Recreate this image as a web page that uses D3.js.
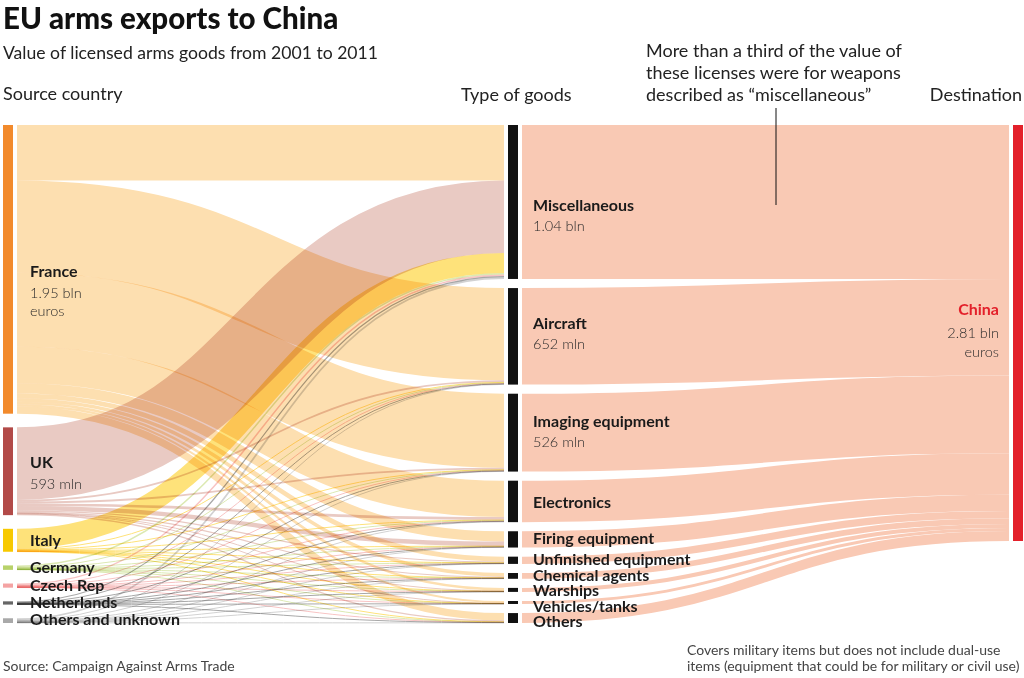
<!DOCTYPE html>
<html><head><meta charset="utf-8">
<script src="https://cdn.jsdelivr.net/npm/d3@7"></script>
<style>
body{margin:0;background:#fff;}
svg{display:block;font-family:Lato,"Source Sans Pro",sans-serif;}
</style></head><body>
<svg id="chart" width="1024" height="678"></svg>
<script>
// ---------- DATA ----------
const sourceCountries = ["France","UK","Italy","Germany","Czech Rep","Netherlands","Others and unknown"];
const goodsTypes = ["Miscellaneous","Aircraft","Imaging equipment","Electronics","Firing equipment","Unfinished equipment","Chemical agents","Warships","Vehicles/tanks","Others"];
const destinations = ["China"];
// value in million euros, per type of goods (same order as goodsTypes)
const franceToGoods      = [375, 623, 500, 246, 69, 32, 24, 18, 14, 49];
const ukToGoods          = [490, 12, 12, 18, 30, 8, 8, 4, 2, 9];
const italyToGoods       = [135, 4, 3, 3, 3, 2, 1, 1, 1, 2];
const germanyToGoods     = [10, 4, 3, 4, 2, 2, 1, 1, 1, 2];
const czechToGoods       = [10, 3, 3, 3, 2, 2, 2, 1, 0.5, 1.5];
const netherlandsToGoods = [8, 3, 2, 2, 2, 1, 1, 1, 0.5, 1.5];
const othersToGoods      = [12, 3, 3, 4, 2, 2, 2, 1, 1, 2];
const sourceValueLabels = [["1.95 bln","euros"],["593 mln"],[],[],[],[],[]];
const goodsValueLabels = [["1.04 bln"],["652 mln"],["526 mln"],[],[],[],[],[],[],[]];
const destinationValueLabels = [["2.81 bln","euros"]];

// ---------- STYLE ----------
const nodeColors = ["#f28a2c","#b24a48","#f7c900","#b8d26a","#f4a3a3","#666666","#a9a9a9"];
const linkColors = ["#fddfb0","#e9cac3","#fee27a","#dce9b2","#f8c4c4","#a8a8a8","#d2d2d2"];
const goodsLinkColor = "#f9c9b4";
const chinaColor = "#e3202a";

// ---------- LAYOUT ----------
const flows = [franceToGoods, ukToGoods, italyToGoods, germanyToGoods, czechToGoods, netherlandsToGoods, othersToGoods];
const srcTotals = flows.map(r => d3.sum(r));
const goodsTotals = goodsTypes.map((g, j) => d3.sum(flows, r => r[j]));
const total = d3.sum(srcTotals);
const yTop = 125, yBottom = 623;
const h = d3.scaleLinear().domain([0, total]).range([0, 416]);
const col = {left:{x0:3,x1:13}, mid:{x0:508,x1:518}, right:{x0:1013,x1:1023}};
const linkGap = 4;

function stack(values){
  const pad = values.length > 1 ? (yBottom - yTop - h(d3.sum(values))) / (values.length - 1) : 0;
  let y = yTop;
  return values.map(v => { const n = {y0:y, y1:y + h(v)}; y = n.y1 + pad; return n; });
}
const srcNodes = stack(srcTotals);
const goodsNodes = stack(goodsTotals);
const destNodes = [{y0: yTop, y1: yTop + h(total)}];

// links source -> goods
const links1 = [];
srcNodes.forEach((n, i) => {
  let ys = n.y0;
  flows[i].forEach((v, j) => {
    const w = h(v);
    links1.push({i, j, v, w, sy: ys + w/2, ty: 0});
    ys += w;
  });
});
goodsTypes.forEach((g, j) => {
  let yt = goodsNodes[j].y0;
  links1.filter(l => l.j === j).sort((a,b)=>a.i-b.i).forEach(l => { l.ty = yt + l.w/2; yt += l.w; });
});
// links goods -> China
const links2 = [];
let yc = destNodes[0].y0;
goodsNodes.forEach((n, j) => {
  const w = h(goodsTotals[j]);
  links2.push({j, w, sy: n.y0 + w/2, ty: yc + w/2});
  yc += w;
});

// ---------- DRAW ----------
const svg = d3.select("#chart");
const link = d3.linkHorizontal();

const g1 = svg.append("g").style("isolation","isolate");
g1.selectAll("path").data(links1).join("path")
  .attr("d", d => link({source:[col.left.x1 + linkGap, d.sy], target:[col.mid.x0 - linkGap, d.ty]}))
  .attr("fill","none")
  .attr("stroke", d => linkColors[d.i])
  .attr("stroke-width", d => Math.max(1, d.w))
  .style("mix-blend-mode","multiply");

const g2 = svg.append("g");
g2.selectAll("path").data(links2).join("path")
  .attr("d", d => link({source:[col.mid.x1 + linkGap, d.sy], target:[col.right.x0 - linkGap, d.ty]}))
  .attr("fill","none")
  .attr("stroke", goodsLinkColor)
  .attr("stroke-width", d => Math.max(1, d.w));

// nodes
svg.append("g").selectAll("rect").data(srcNodes).join("rect")
  .attr("x", col.left.x0).attr("width", col.left.x1 - col.left.x0)
  .attr("y", d => d.y0).attr("height", d => Math.max(2.5, d.y1 - d.y0))
  .attr("fill", (d,i) => nodeColors[i]);
svg.append("g").selectAll("rect").data(goodsNodes).join("rect")
  .attr("x", col.mid.x0).attr("width", col.mid.x1 - col.mid.x0)
  .attr("y", d => d.y0).attr("height", d => Math.max(2.5, d.y1 - d.y0))
  .attr("fill", "#111");
svg.append("g").selectAll("rect").data(destNodes).join("rect")
  .attr("x", col.right.x0).attr("width", col.right.x1 - col.right.x0)
  .attr("y", d => d.y0).attr("height", d => d.y1 - d.y0)
  .attr("fill", chinaColor);

// ---------- LABELS ----------
function nodeLabel(x, y, name, extra, anchor, lineGap, nameColor){
  const t = svg.append("text").attr("text-anchor", anchor);
  t.append("tspan").attr("x", x).attr("y", y)
    .attr("font-size", 16).attr("font-weight", 700).attr("fill", nameColor || "#1a1a1a").text(name);
  extra.forEach((s, k) => {
    t.append("tspan").attr("x", x).attr("y", y + lineGap[k])
      .attr("font-size", 14.5).attr("font-weight", 300).attr("fill", "#2a2a2a").text(s);
  });
}
// label baselines: node centre + offset, pushed down so stacked single-line labels keep a 15px spacing
function labelYs(nodes, dys){
  let prev = -Infinity;
  return nodes.map((n, k) => {
    let y = (n.y0 + n.y1)/2 + dys[k];
    if (y < prev + 15.5) y = prev + 15.5;
    prev = y;
    return y;
  });
}
const srcYs = labelYs(srcNodes, [8, -3.5, 5.5, 5, 5, 5, 4.5]);
srcNodes.forEach((n, i) => nodeLabel(30, srcYs[i], sourceCountries[i], sourceValueLabels[i], "start", [21, 39]));
const midYs = labelYs(goodsNodes, [9, -7, -6, 7, 5, 5, 4.5, 4, 5, 5]);
goodsNodes.forEach((n, j) => nodeLabel(533, midYs[j], goodsTypes[j], goodsValueLabels[j], "start", [20]));
const dcy = (destNodes[0].y0 + destNodes[0].y1)/2;
nodeLabel(999, dcy - 18.5, destinations[0], destinationValueLabels[0], "end", [23, 42], chinaColor);

// titles
svg.append("text").attr("x", 3).attr("y", 29).attr("font-size", 29.5).attr("font-weight", 900).attr("fill", "#111").text("EU arms exports to China");
svg.append("text").attr("x", 3).attr("y", 59).attr("font-size", 17.6).attr("fill", "#222").text("Value of licensed arms goods from 2001 to 2011");
svg.append("text").attr("x", 3).attr("y", 100).attr("font-size", 18).attr("fill", "#222").text("Source country");
svg.append("text").attr("x", 461).attr("y", 101).attr("font-size", 18).attr("fill", "#222").text("Type of goods");
svg.append("text").attr("x", 1022).attr("y", 101).attr("text-anchor","end").attr("font-size", 18).attr("fill", "#222").text("Destination");

// annotation
const ann = svg.append("text").attr("font-size", 18).attr("fill", "#222");
["More than a third of the value of","these licenses were for weapons","described as \u201cmiscellaneous\u201d"].forEach((s,k)=>{
  ann.append("tspan").attr("x", 646).attr("y", 57 + k*22).text(s);
});
svg.append("line").attr("x1", 776).attr("x2", 776).attr("y1", 108).attr("y2", 205).attr("stroke", "#111").attr("stroke-width", 1);

// footer
svg.append("text").attr("x", 3).attr("y", 671).attr("font-size", 14).attr("fill", "#444").text("Source: Campaign Against Arms Trade");
const fn = svg.append("text").attr("font-size", 14).attr("fill", "#444");
["Covers military items but does not include dual-use","items (equipment that could be for military or civil use)"].forEach((s,k)=>{
  fn.append("tspan").attr("x", 687).attr("y", 655 + k*16).text(s);
});
</script>
</body></html>
